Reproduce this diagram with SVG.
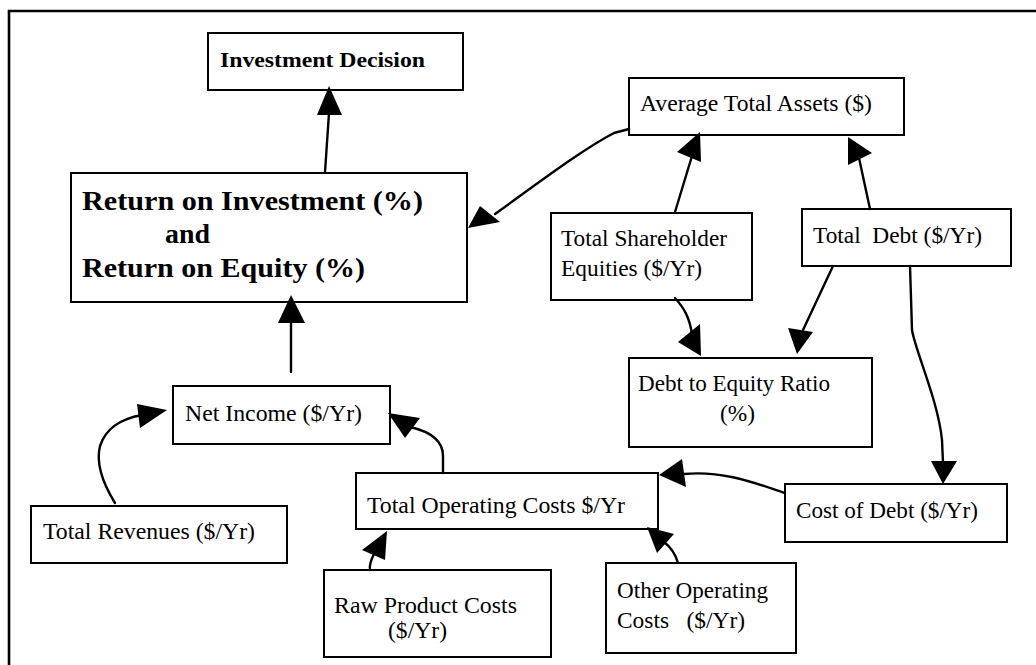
<svg xmlns="http://www.w3.org/2000/svg" width="1036" height="665" viewBox="0 0 1036 665">
<style>
.box{fill:#fff;stroke:#000;stroke-width:2}
.t{font-family:"Liberation Serif","Times New Roman",serif;font-size:24px;fill:#000;white-space:pre}
.b{font-family:"Liberation Serif","Times New Roman",serif;font-weight:bold;fill:#000;white-space:pre}
.c{fill:none;stroke:#000;stroke-width:2.4;stroke-linecap:round;stroke-linejoin:round}
.h{fill:#000;stroke:none}
</style>
<rect width="1036" height="665" fill="#fff"/>
<path d="M9,665 L9,11 L1036,11" fill="none" stroke="#000" stroke-width="2.6"/>

<g id="investment-decision">
<rect class="box" x="208" y="33" width="255" height="57"/>
<text class="b" x="220" y="67" font-size="22" textLength="205" lengthAdjust="spacingAndGlyphs">Investment Decision</text>
</g>
<g id="roi-roe">
<rect class="box" x="71" y="173" width="396" height="129"/>
<text class="b" x="82" y="210" font-size="27" textLength="341" lengthAdjust="spacingAndGlyphs">Return on Investment (%)</text>
<text class="b" x="165" y="243" font-size="27" textLength="45" lengthAdjust="spacingAndGlyphs">and</text>
<text class="b" x="82" y="277" font-size="27" textLength="283" lengthAdjust="spacingAndGlyphs">Return on Equity (%)</text>
</g>
<g id="average-total-assets">
<rect class="box" x="629" y="78" width="275" height="57"/>
<text class="t" x="640" y="111" textLength="232" lengthAdjust="spacingAndGlyphs">Average Total Assets ($)</text>
</g>
<g id="total-shareholder-equities">
<rect class="box" x="551" y="213" width="201" height="87"/>
<text class="t" x="561" y="246" textLength="166" lengthAdjust="spacingAndGlyphs">Total Shareholder</text>
<text class="t" x="561" y="276" textLength="141" lengthAdjust="spacingAndGlyphs">Equities ($/Yr)</text>
</g>
<g id="total-debt">
<rect class="box" x="802" y="209" width="209" height="57"/>
<text class="t" x="813" y="243" textLength="169" lengthAdjust="spacingAndGlyphs">Total  Debt ($/Yr)</text>
</g>
<g id="debt-to-equity-ratio">
<rect class="box" x="629" y="358" width="243" height="89"/>
<text class="t" x="638" y="391" textLength="192" lengthAdjust="spacingAndGlyphs">Debt to Equity Ratio</text>
<text class="t" x="720" y="421" textLength="35" lengthAdjust="spacingAndGlyphs">(%)</text>
</g>
<g id="cost-of-debt">
<rect class="box" x="785" y="484" width="222" height="58"/>
<text class="t" x="796" y="518" textLength="182" lengthAdjust="spacingAndGlyphs">Cost of Debt ($/Yr)</text>
</g>
<g id="net-income">
<rect class="box" x="173" y="386" width="217" height="58"/>
<text class="t" x="185" y="421" textLength="177" lengthAdjust="spacingAndGlyphs">Net Income ($/Yr)</text>
</g>
<g id="total-revenues">
<rect class="box" x="31" y="506" width="256" height="57"/>
<text class="t" x="43" y="539" textLength="212" lengthAdjust="spacingAndGlyphs">Total Revenues ($/Yr)</text>
</g>
<g id="total-operating-costs">
<rect class="box" x="356" y="473" width="302" height="56"/>
<text class="t" x="367" y="513" textLength="258" lengthAdjust="spacingAndGlyphs">Total Operating Costs $/Yr</text>
</g>
<g id="raw-product-costs">
<rect class="box" x="324" y="570" width="227" height="87"/>
<text class="t" x="334" y="613" textLength="183" lengthAdjust="spacingAndGlyphs">Raw Product Costs</text>
<text class="t" x="388" y="638" textLength="59" lengthAdjust="spacingAndGlyphs">($/Yr)</text>
</g>
<g id="other-operating-costs">
<rect class="box" x="606" y="563" width="190" height="90"/>
<text class="t" x="617" y="598" textLength="151" lengthAdjust="spacingAndGlyphs">Other Operating</text>
<text class="t" x="617" y="628" textLength="128" lengthAdjust="spacingAndGlyphs">Costs   ($/Yr)</text>
</g>

<g id="connectors">
<path class="c" d="M325,172 L329,113"/>
<polygon class="h" points="329,86 317,115 342,115"/>
<path class="c" d="M291,372 L291,321"/>
<polygon class="h" points="291,295 278,323 305,323"/>
<path class="c" d="M629,129 L614,133 C585,148 545,178 495,214"/>
<polygon class="h" points="468,228 480,206 500,222"/>
<path class="c" d="M675,212 L692,156"/>
<polygon class="h" points="700,132 677,152 701,162"/>
<path class="c" d="M870,209 L859,158"/>
<polygon class="h" points="848,137 848,165 872,153"/>
<path class="c" d="M675,298 C684,308 690,318 692,335"/>
<polygon class="h" points="701,356 678,342 700,324"/>
<path class="c" d="M833,266 L803,330"/>
<polygon class="h" points="797,354 788,328 813,332"/>
<path class="c" d="M910,266 L912,330 C915,350 938,400 942,440 L943,463"/>
<polygon class="h" points="943,484 931,461 957,461"/>
<path class="c" d="M785,493 C760,485 725,470 684,474"/>
<polygon class="h" points="659,475 682,459 686,487"/>
<path class="c" d="M678,563 C676,556 672,548 664,542"/>
<polygon class="h" points="647,527 657,553 674,534"/>
<path class="c" d="M370,570 C369,565 371,560 374,554"/>
<polygon class="h" points="387,531 362,550 385,560"/>
<path class="c" d="M115,503 C102,482 96,462 100,446 C106,428 120,419 142,415"/>
<polygon class="h" points="167,410 137,404 140,428"/>
<path class="c" d="M443,473 L443,456 C443,442 432,432 410,427"/>
<polygon class="h" points="388,413 405,438 420,418"/>
</g>
</svg>
